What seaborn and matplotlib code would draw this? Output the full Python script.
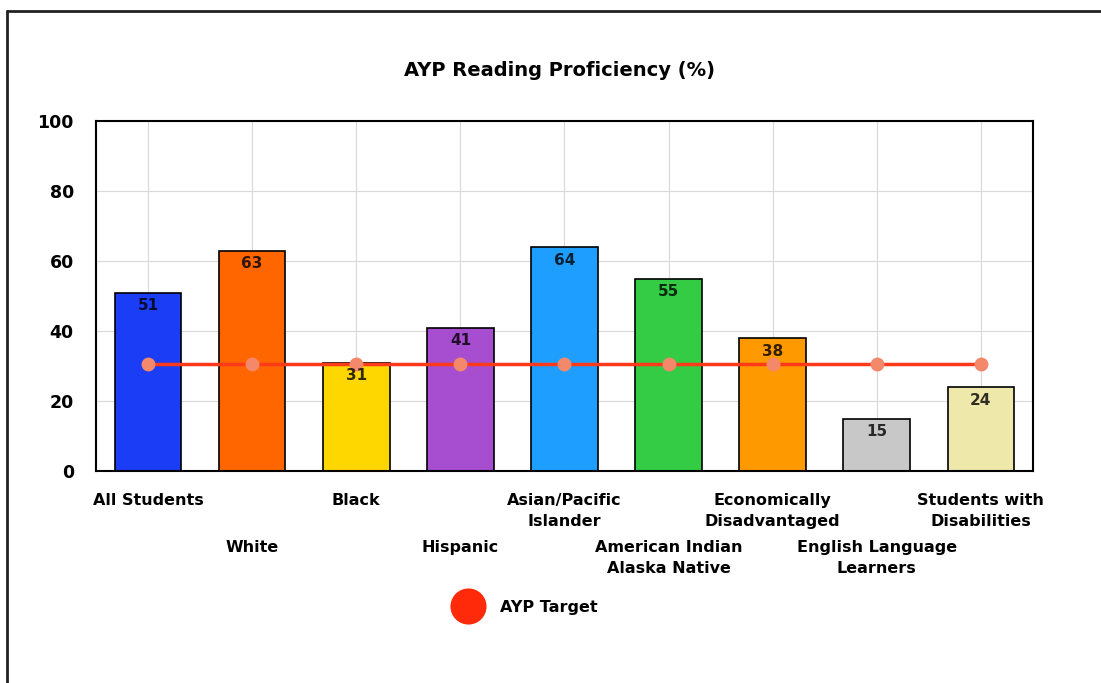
import numpy as np
import matplotlib
matplotlib.use("Agg")
import matplotlib.pyplot as plt
from matplotlib.lines import Line2D
import seaborn as sns

# Chart data
categories = ["All Students", "White", "Black", "Hispanic", "Asian/Pacific\nIslander",
              "American Indian\nAlaska Native", "Economically\nDisadvantaged",
              "English Language\nLearners", "Students with\nDisabilities"]
proficiency = [51, 63, 31, 41, 64, 55, 38, 15, 24]
ayp_target = [30.6] * len(categories)
bar_colors = ["#1a3df5", "#ff6600", "#ffd700", "#a64dd0", "#1e9fff",
              "#33cc44", "#ff9900", "#c8c8c8", "#eee8aa"]

sns.set_style("white")
plt.rcParams['font.family'] = ['DejaVu Sans']
plt.rcParams['text.color'] = 'black'
plt.rcParams['xtick.color'] = 'black'
plt.rcParams['ytick.color'] = 'black'

fig = plt.figure(figsize=(11.01, 6.83), dpi=100)
ax = fig.add_axes([0.0872, 0.3104, 0.851, 0.5124])

sns.barplot(x=categories, y=proficiency, hue=categories, palette=bar_colors,
            legend=False, width=0.64, edgecolor="black", linewidth=1.2,
            saturation=1, ax=ax, zorder=2)

# value labels just inside the top of each bar
for i, v in enumerate(proficiency):
    ax.annotate(str(v), (i, v), xytext=(0, -4), textcoords="offset points",
                ha="center", va="top", fontsize=11, fontweight="bold",
                color="black", alpha=0.8, zorder=5)

# AYP target line
xpos = np.arange(len(categories))
ax.plot(xpos, ayp_target, color="#ff3a1a", linewidth=2.5, zorder=3)
ax.plot(xpos, ayp_target, linestyle="none", marker="o", markersize=10,
        markerfacecolor="#f4886a", markeredgewidth=0, zorder=4)

ax.set_xlim(-0.5, len(categories) - 0.5)
ax.set_ylim(0, 100)
ax.set_yticks([0, 20, 40, 60, 80, 100])
ax.grid(True, color="#d9d9d9", linewidth=0.8, zorder=0)
ax.set_axisbelow(True)
for s in ax.spines.values():
    s.set_color("black")
    s.set_linewidth(1.5)

# staggered category labels
ax.set_xticks(xpos)
ax.set_xticklabels(categories, fontsize=11.5, fontweight="bold", linespacing=1.45)
ax.tick_params(axis="x", direction="out", length=8, width=1.2, pad=8)
for i, tick in enumerate(ax.xaxis.get_major_ticks()):
    if i % 2 == 1:
        tick.set_pad(42)
ax.tick_params(axis="y", direction="out", length=12, width=1.2,
               labelsize=12.5, pad=4)
for t in ax.get_yticklabels():
    t.set_fontweight("bold")

fig.text(0.508, 0.897, "AYP Reading Proficiency (%)", ha="center", va="center",
         fontsize=14, fontweight="bold")

handle = Line2D([], [], linestyle="none", marker="o", markersize=26,
                markerfacecolor="#ff2a0a", markeredgewidth=0)
fig.legend([handle], ["AYP Target"], loc="center", bbox_to_anchor=(0.477, 0.111),
           frameon=False, prop={"weight": "bold", "size": 11.5}, handletextpad=1.0)

# frame lines on top and left
fig.add_artist(Line2D([0.0064, 0.0064], [0, 0.984], color="#222222", linewidth=2,
                      transform=fig.transFigure))
fig.add_artist(Line2D([0.0064, 1], [0.984, 0.984], color="#222222", linewidth=2,
                      transform=fig.transFigure))

fig.savefig("out.png", dpi=100)
